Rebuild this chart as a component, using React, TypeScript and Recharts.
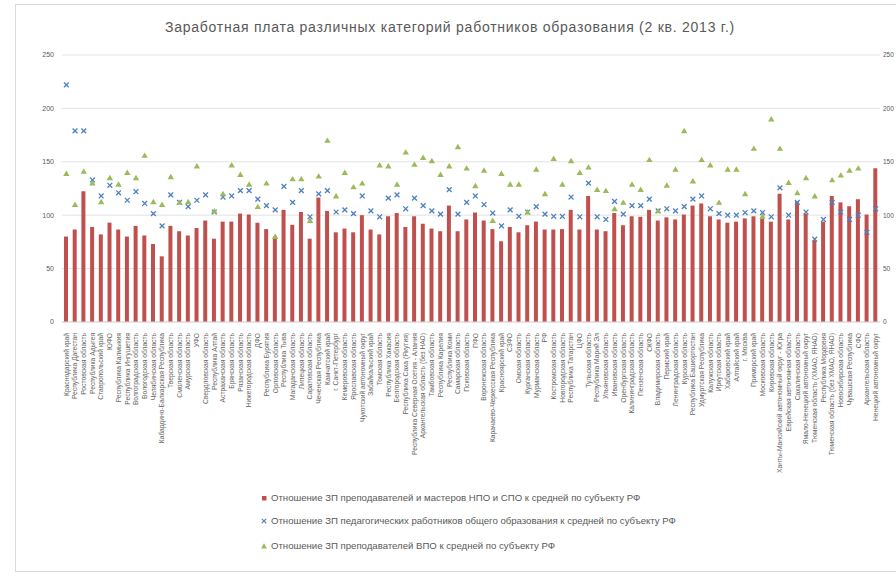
import React from "react";
import {
  ComposedChart,
  Bar,
  Scatter,
  XAxis,
  YAxis,
  CartesianGrid,
} from "recharts";

const regions = [
  "Краснодарский край", "Республика Дагестан", "Ростовская область", "Республика Адыгея",
  "Ставропольский край", "ЮФО", "Республика Калмыкия", "Республика Ингушетия",
  "Волгоградская область", "Вологодская область", "Челябинская область",
  "Кабардино-Балкарская Республика", "Тверская область", "Смоленская область",
  "Амурская область", "УФО", "Свердловская область", "Республика Алтай",
  "Астраханская область", "Брянская область", "Рязанская область", "Нижегородская область",
  "ДФО", "Республика Бурятия", "Орловская область", "Республика Тыва",
  "Магаданская область", "Липецкая область", "Саратовская область", "Чеченская Республика",
  "Камчатский край", "г. Санкт-Петербург", "Кемеровская область", "Ярославская область",
  "Чукотский автономный округ", "Забайкальский край", "Томская область", "Республика Хакасия",
  "Белгородская область", "Республика Саха (Якутия)", "Республика Северная Осетия - Алания",
  "Архангельская область (без НАО)", "Тамбовская область", "Республика Карелия",
  "Республика Коми", "Самарская область", "Псковская область", "ПФО",
  "Воронежская область", "Карачаево-Черкесская Республика", "Красноярский край", "СЗФО",
  "Омская область", "Курганская область", "Мурманская область", "РФ",
  "Костромская область", "Новгородская область", "Республика Татарстан", "ЦФО",
  "Тульская область", "Республика Марий Эл", "Ульяновская область", "Ивановская область",
  "Оренбургская область", "Калининградская область", "Пензенская область", "СКФО",
  "Владимирская область", "Пермский край", "Ленинградская область", "Курская область",
  "Республика Башкортостан", "Удмуртская Республика", "Калужская область", "Иркутская область",
  "Хабаровский край", "Алтайский край", "г. Москва", "Приморский край",
  "Московская область", "Кировская область", "Ханты-Мансийский автономный округ - Югра",
  "Еврейская автономная область", "Сахалинская область", "Ямало-Ненецкий автономный округ",
  "Тюменская область (ХМАО, ЯНАО)", "Республика Мордовия", "Тюменская область (без ХМАО, ЯНАО)",
  "Новосибирская область", "Чувашская Республика", "СФО", "Архангельская область",
  "Ненецкий автономный округ",
];

// НПО и СПО
const npoSpo = [
  80, 86.6, 122.5, 89, 82, 93, 86.6, 80, 90, 81, 73, 61.5, 90, 85, 81, 88, 95, 78, 94, 94,
  101.5, 100.6, 93, 87, 80, 105, 91, 103, 78, 116.5, 104, 84, 87.5, 84, 100, 86.6, 82, 99, 102, 89,
  99, 92, 87.5, 85, 109, 85, 96, 102.5, 95, 87, 75.6, 89, 84, 90.6, 94, 86.6, 86.6, 87, 105, 86.6,
  118, 86.6, 85, 102, 90.6, 99, 98.5, 105, 95, 98, 96, 100.6, 109, 111, 99, 96, 93, 94, 97, 99,
  97, 94, 120, 96, 113, 101.5, 76.6, 94, 118, 112, 108.4, 115, 100.6, 144,
];

// общее образование
const school = [
  222, 179, 179, 133, 118, 128, 121, 114, 122, 111, 101.5, 90, 119, 112, 108, 114, 119, 103, 117, 118,
  123, 123, 115, 109, 105, 127, 112, 123, 98.5, 120, 123, 103, 105, 101.5, 118, 104, 98.5, 116, 119, 106,
  116, 109, 104, 101, 124, 101, 112, 118, 110, 102, 90, 105, 99, 103, 108, 101, 99, 99, 117, 98.5,
  130, 98.5, 96, 113, 101, 109, 109, 115, 104, 106, 104, 108, 115, 118, 106, 101.5, 100, 100, 102.5, 104,
  102.5, 98.5, 125.6, 100, 112, 103, 77.5, 96, 112, 103, 96, 100, 84, 106,
];

// ВПО
const vpo = [
  139, 110, 141, 130, 112.5, 135, 129, 140, 135, 156, 112.5, 110, 136, 112, 112.5, 146, null, 104, 120, 147,
  138, 129, 108, 130, 80, null, 134, 134, 95, 136.5, 170, 118, 140, 126.5, 130, null, 147, 146, 129, 159,
  147.5, 154, 151, 138, 146, 164, 144, 127.5, 142, 95, 139, 129, 129, 103, 143, 120, 153, 129, 151, 140,
  145, 124, 123, 106, 112, 129, 124, 152, 104, 128, 143, 179, 132, 152, 147, 112, 143, 143, 120, 162.5,
  99, 190, 162.5, 130.6, 121, 135, 118, null, 133, 137.5, 142, 144, null, null,
];

const yTicks = [0, 50, 100, 150, 200, 250];

const legendItems = [
  { key: "bar", text: "Отношение ЗП  преподавателей и мастеров НПО и СПО к средней по субъекту РФ" },
  { key: "cross", text: "Отношение ЗП  педагогических работников общего образования к средней по субъекту РФ" },
  { key: "tri", text: "Отношение ЗП  преподавателей ВПО к средней по субъекту РФ" },
];

const data = regions.map((name, i) => ({
  name,
  npoSpo: npoSpo[i],
  school: school[i],
  vpo: vpo[i],
}));

const FONT = "'Liberation Sans', Arial, sans-serif";
const RED = "#c0504d";
const BLUE = "#4f81bd";
const GREEN = "#9bbb59";

const CrossShape = (props: any) => {
  const { cx, cy } = props;
  if (cx == null || cy == null || !isFinite(cx) || !isFinite(cy)) return <g />;
  const s = 2.4;
  return (
    <path
      d={`M${cx - s},${cy - s}L${cx + s},${cy + s}M${cx - s},${cy + s}L${cx + s},${cy - s}`}
      stroke={BLUE}
      strokeWidth={1.3}
      fill="none"
    />
  );
};

const TriangleShape = (props: any) => {
  const { cx, cy, payload } = props;
  if (payload?.vpo == null || cx == null || cy == null || !isFinite(cy)) return <g />;
  return (
    <path
      d={`M${cx},${cy - 3}L${cx + 3.2},${cy + 2.4}L${cx - 3.2},${cy + 2.4}Z`}
      fill={GREEN}
    />
  );
};

const CategoryTick = (props: any) => {
  const { x, y, payload } = props;
  return (
    <g transform={`translate(${x},${y + 3})`}>
      <text
        x={0}
        y={0}
        dy={2.3}
        textAnchor="end"
        transform="rotate(-90)"
        fontSize={6.7}
        fill="#666"
        fontFamily={FONT}
      >
        {payload.value}
      </text>
    </g>
  );
};

const LegendMarker = ({ kind }: { kind: string }) => {
  if (kind === "bar") {
    return (
      <svg width={8} height={8}>
        <rect x={2} y={2} width={4.5} height={4.5} fill={RED} />
      </svg>
    );
  }
  if (kind === "cross") {
    return (
      <svg width={8} height={8}>
        <path d="M1.8,1.8L6.2,6.2M1.8,6.2L6.2,1.8" stroke={BLUE} strokeWidth={1.2} />
      </svg>
    );
  }
  return (
    <svg width={8} height={8}>
      <path d="M4,1.2L7,6.6L1,6.6Z" fill={GREEN} />
    </svg>
  );
};

export default function App() {
  const legendTops = [492, 515, 540];
  return (
    <div
      style={{
        position: "absolute",
        left: 0,
        top: 0,
        width: 896,
        height: 577,
        overflow: "hidden",
        background: "#fff",
        fontFamily: FONT,
      }}
    >
      <div
        style={{
          position: "absolute",
          left: 15,
          top: 4,
          width: 920,
          height: 566,
          border: "1px solid #d9d9d9",
        }}
      />
      <div
        style={{
          position: "absolute",
          left: 0,
          width: 900,
          top: 19,
          textAlign: "center",
          fontSize: 14,
          letterSpacing: 0.75,
          color: "#595959",
        }}
      >
        Заработная плата различных категорий работников образования (2 кв. 2013 г.)
      </div>
      <div style={{ position: "absolute", left: 0, top: 0 }}>
        <ComposedChart
          width={920}
          height={577}
          data={data}
          margin={{ top: 55, right: 10, bottom: 95, left: 0 }}
          barCategoryGap={0}
        >
          <CartesianGrid vertical={false} stroke="#e3e3e3" />
          <XAxis
            dataKey="name"
            interval={0}
            height={160}
            tick={<CategoryTick />}
            tickLine={false}
            axisLine={{ stroke: "#d9d9d9" }}
          />
          <YAxis
            width={62}
            domain={[0, 250]}
            ticks={yTicks}
            axisLine={false}
            tickLine={false}
            tick={{ fontSize: 7, fill: "#595959", fontFamily: FONT }}
          />
          <YAxis
            yAxisId="r"
            orientation="right"
            width={30}
            domain={[0, 250]}
            ticks={yTicks}
            axisLine={false}
            tickLine={false}
            tickMargin={-3}
            tick={{ fontSize: 6.5, fill: "#595959", fontFamily: FONT }}
          />
          <Bar dataKey="npoSpo" fill={RED} barSize={4} isAnimationActive={false} />
          <Scatter dataKey="school" shape={<CrossShape />} isAnimationActive={false} />
          <Scatter yAxisId="r" dataKey="vpo" shape={<TriangleShape />} isAnimationActive={false} />
        </ComposedChart>
      </div>
      {legendItems.map((item, i) => (
        <div
          key={item.key}
          style={{
            position: "absolute",
            left: 260,
            top: legendTops[i],
            display: "flex",
            alignItems: "center",
            gap: 3,
            fontSize: 9.6,
            color: "#595959",
            whiteSpace: "nowrap",
          }}
        >
          <LegendMarker kind={item.key} />
          <span>{item.text}</span>
        </div>
      ))}
    </div>
  );
}
